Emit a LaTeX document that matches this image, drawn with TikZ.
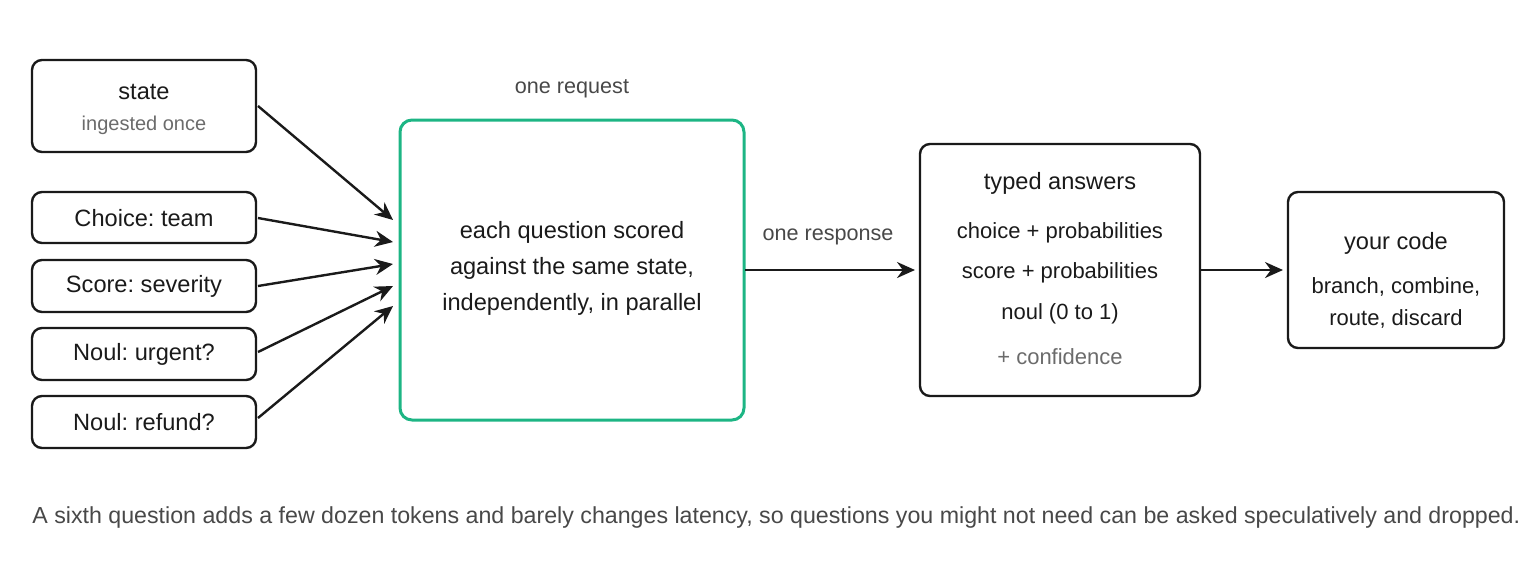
\documentclass[tikz,border=0pt]{standalone}
\usepackage{fontspec}
\setmainfont{Liberation Sans}
\frenchspacing
\usetikzlibrary{arrows.meta}
\definecolor{ink}{HTML}{1A1A1A}
\definecolor{sub}{HTML}{6B6B6B}
\definecolor{grn}{HTML}{1DB584}
\begin{document}
\begin{tikzpicture}[x=0.5pt,y=-0.5pt,
  box/.style={draw=ink,line width=1.2pt,rounded corners=5pt},
  lbl/.style={font=\fontsize{11.8}{13}\selectfont,text=ink,align=center},
  small/.style={font=\fontsize{10}{11}\selectfont,text=sub},
  arr/.style={-{Stealth[length=9pt,width=8pt]},line width=1.2pt,draw=ink}]
\useasboundingbox (0,0) rectangle (1520,580);
\clip (0,0) rectangle (1520,580);
% inputs
\draw[box] (32,60) rectangle (256,152);
\node[lbl] (state) at (144,92) {state};
\node[small] (stsub) at (144,125) {ingested once};
\draw[box] (32,192) rectangle (256,243); \node[lbl] (q1) at (144,218) {Choice: team};
\draw[box] (32,260) rectangle (256,312); \node[lbl] (q2) at (144,286) {Score: severity};
\draw[box] (32,328) rectangle (256,380); \node[lbl] (q3) at (144,354) {Noul: urgent?};
\draw[box] (32,396) rectangle (256,448); \node[lbl] (q4) at (144,422) {Noul: refund?};
\coordinate (s0) at (258,106); \coordinate (s1) at (258,218); \coordinate (s2) at (258,286);
\coordinate (s3) at (258,352); \coordinate (s4) at (258,418);
% center
\draw[draw=grn,line width=1.5pt,rounded corners=6pt] (400,120) rectangle (744,420);
\node[font=\fontsize{10.8}{12}\selectfont,text=ink!80] (req) at (572,89) {one request};
\node[lbl,font=\fontsize{11.8}{18}\selectfont] (core) at (572,268) {each question scored\\against the same state,\\independently, in parallel};
\coordinate (t0) at (393,220); \coordinate (t1) at (393,242); \coordinate (t2) at (393,264);
\coordinate (t3) at (393,286); \coordinate (t4) at (393,306);
\foreach \i in {0,...,4} \draw[arr] (s\i) -- (t\i);
% typed answers
\draw[box] (920,144) rectangle (1200,396);
\node[lbl] (ta) at (1060,183) {typed answers};
\node[lbl,font=\fontsize{11}{12}\selectfont] (a1) at (1060,233) {choice + probabilities};
\node[lbl,font=\fontsize{11}{12}\selectfont] (a2) at (1060,273) {score + probabilities};
\node[lbl,font=\fontsize{11}{12}\selectfont] (a3) at (1060,314) {noul (0 to 1)};
\node[small,font=\fontsize{11}{12}\selectfont] (a4) at (1060,357) {+ confidence};
\node[font=\fontsize{10.8}{12}\selectfont,text=ink!80] (resp) at (828,237) {one response};
\coordinate (g) at (745,270); \coordinate (h) at (915,270);
\draw[arr] (g) -- (h);
% your code
\draw[box] (1288,192) rectangle (1504,348);
\node[lbl] (yc) at (1396,243) {your code};
\node[lbl,font=\fontsize{11}{16}\selectfont] (yd) at (1396,303) {branch, combine,\\route, discard};
\coordinate (u) at (1201,270); \coordinate (v) at (1283,270);
\draw[arr] (u) -- (v);
\node[anchor=west,inner sep=0,font=\fontsize{11.6}{12}\selectfont,text=ink!80] (note) at (32,517) {A sixth question adds a few dozen tokens and barely changes latency, so questions you might not need can be asked speculatively and dropped.};
\end{tikzpicture}
\end{document}
